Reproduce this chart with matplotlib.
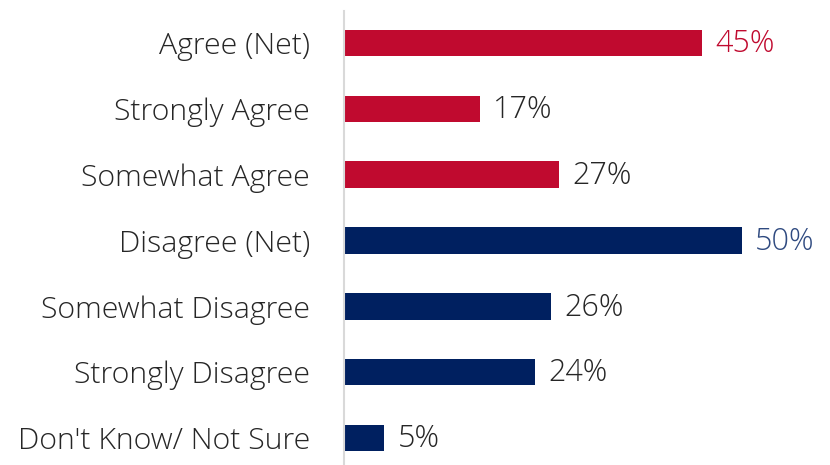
import matplotlib

matplotlib.use("Agg")
import matplotlib.pyplot as plt

CATEGORIES = [
    "Agree (Net)",
    "Strongly Agree",
    "Somewhat Agree",
    "Disagree (Net)",
    "Somewhat Disagree",
    "Strongly Disagree",
    "Don't Know/ Not Sure",
]
VALUES = [45, 17, 27, 50, 26, 24, 5]
GROUPS = ["agree", "agree", "agree", "disagree", "disagree", "disagree", "disagree"]
NET_ROWS = [True, False, False, True, False, False, False]

RED = "#C00A2F"
NAVY = "#002060"
TEXT = "#262626"

plt.rcParams["font.family"] = ["Open Sans", "DejaVu Sans"]

fig = plt.figure(figsize=(8.3, 4.65), dpi=100)
ax = fig.add_axes([344 / 830, 0.0, 486 / 830, 454 / 465])

ypos = list(range(len(CATEGORIES)))
colors = [RED if g == "agree" else NAVY for g in GROUPS]
ax.barh(ypos, VALUES, height=0.4, color=colors, left=0.1)

# value labels: net rows take the series colour, the rest stay grey
for y, v, c, net in zip(ypos, VALUES, colors, NET_ROWS):
    ax.text(v + 1.8, y + 0.02, f"{v}%", va="center", ha="left", fontsize=22,
            fontweight="light", color=(RED if c == RED else "#2F4A80") if net else TEXT)

ax.set_xlim(0, 486 / 7.94)
ax.set_ylim(6.41, -0.486)
ax.set_yticks(ypos)
ax.set_yticklabels(CATEGORIES, fontsize=21.8, fontweight="light", color=TEXT)
ax.tick_params(axis="y", length=0, pad=24.5)
ax.set_xticks([])
for side in ("top", "right", "bottom"):
    ax.spines[side].set_visible(False)
ax.spines["left"].set_color("#D9D9D9")
ax.spines["left"].set_linewidth(1.5)

fig.savefig("out.png", dpi=100)
